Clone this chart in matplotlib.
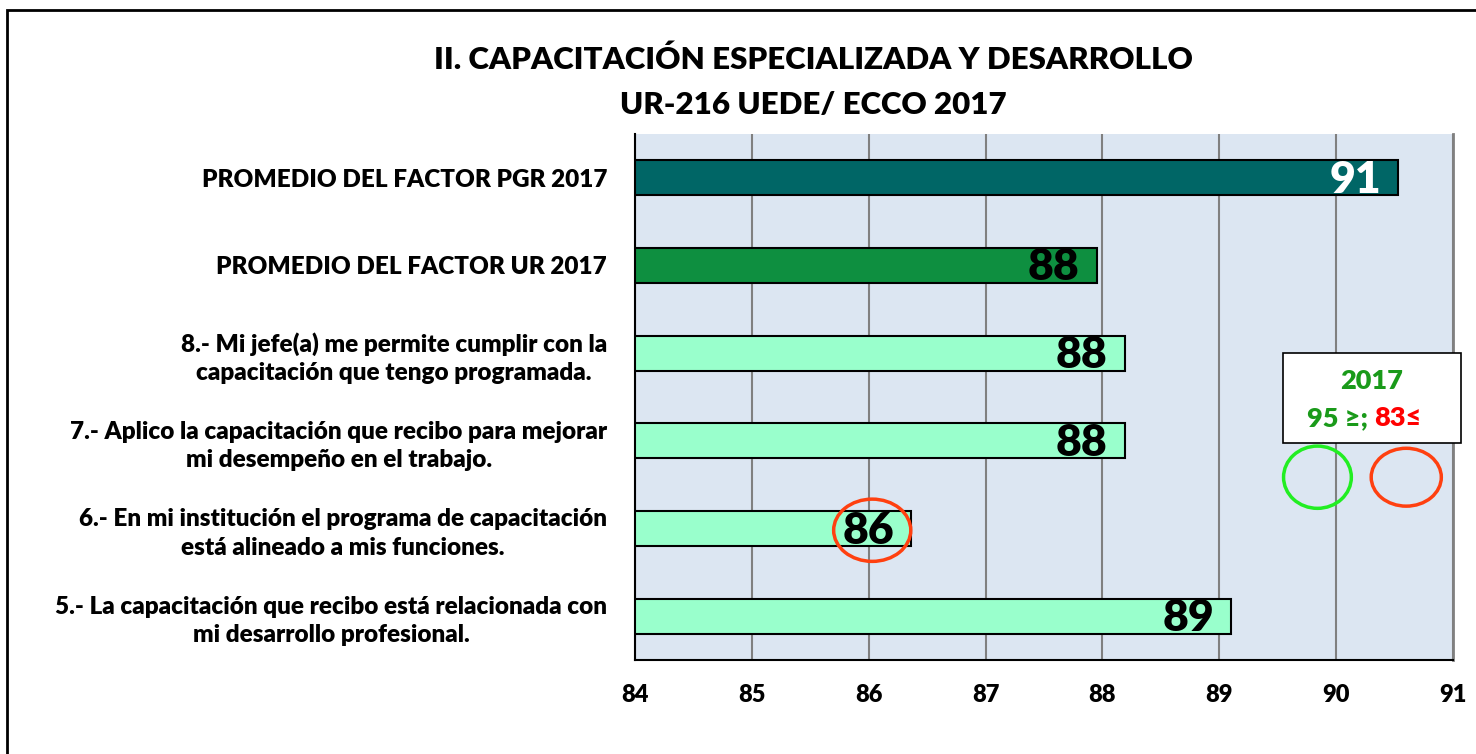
import matplotlib
matplotlib.use("Agg")
import matplotlib.pyplot as plt
from matplotlib.patches import Rectangle, Ellipse

plt.rcParams['font.family'] = ['Lato', 'DejaVu Sans']

categories = [
    "PROMEDIO DEL FACTOR PGR 2017",
    "PROMEDIO DEL FACTOR UR 2017",
    "8.- Mi jefe(a) me permite cumplir con la\ncapacitación que tengo programada.",
    "7.- Aplico la capacitación que recibo para mejorar\nmi desempeño en el trabajo.",
    "6.- En mi institución el programa de capacitación\nestá alineado a mis funciones.",
    "5.- La capacitación que recibo está relacionada con\nmi desarrollo profesional.",
]
values = [90.53, 87.95, 88.19, 88.19, 86.36, 89.10]
value_labels = ["91", "88", "88", "88", "86", "89"]
bar_colors = ["#006666", "#0e8f40", "#99ffcc", "#99ffcc", "#99ffcc", "#99ffcc"]
label_colors = ["white", "black", "black", "black", "black", "black"]
xticks = [84, 85, 86, 87, 88, 89, 90, 91]
title_lines = ["II. CAPACITACIÓN ESPECIALIZADA Y DESARROLLO", "UR-216 UEDE/ ECCO 2017"]

W, H = 1476, 754
fig = plt.figure(figsize=(W / 100, H / 100), dpi=100)
fig.patch.set_facecolor("white")
WT = "heavy"

def fx(px):
    return px / W

def fy(py):
    return 1 - py / H

ax = fig.add_axes([fx(635), fy(660), fx(1453) - fx(635), fy(134) - fy(660)])
ax.set_facecolor("#dce6f2")

y = list(range(len(categories)))
xmin = xticks[0]
ax.barh(y, [v - xmin for v in values], left=xmin, height=0.4,
        color=bar_colors, edgecolor="black", linewidth=1.5, zorder=3)

ax.set_xlim(xticks[0], xticks[-1])
ax.set_ylim(len(categories) - 0.5, -0.5)
ax.set_xticks(xticks)
ax.set_xticklabels([str(t) for t in xticks], fontsize=17, fontweight=WT)
ax.tick_params(axis="x", length=0, pad=17)
ax.set_yticks(y)
ax.set_yticklabels(categories, fontsize=17.5, fontweight=WT, ha="right",
                   multialignment="center", linespacing=1.35)
ax.tick_params(axis="y", length=0, pad=20)
ax.xaxis.grid(True, color="#808080", linewidth=1.5, zorder=1)
ax.set_axisbelow(True)
ax.spines["top"].set_visible(False)
ax.spines["right"].set_color("#808080")
ax.spines["right"].set_linewidth(2)
ax.spines["left"].set_color("black")
ax.spines["left"].set_linewidth(1.5)
ax.spines["bottom"].set_color("black")
ax.spines["bottom"].set_linewidth(1.5)

for i, (v, lab, c) in enumerate(zip(values, value_labels, label_colors)):
    ax.annotate(lab, xy=(v, i), xytext=(-17, -2), textcoords="offset pixels",
                ha="right", va="center", fontsize=32, fontweight=WT,
                color=c, zorder=5)

# title
fig.text(fx(813), fy(60), title_lines[0], ha="center", va="center",
         fontsize=22.5, fontweight=WT)
fig.text(fx(813), fy(105), title_lines[1], ha="center", va="center",
         fontsize=22.5, fontweight=WT)

# red ellipse around lowest item
ax.add_patch(Ellipse((86.03, 4.02), 0.66, 0.71, fill=False,
                     edgecolor="#ff4010", linewidth=2.5, zorder=6, clip_on=False))
# legend circles
ax.add_patch(Ellipse((89.84, 3.415), 0.58, 0.71, fill=False,
                     edgecolor="#22ee22", linewidth=2.5, zorder=6, clip_on=False))
ax.add_patch(Ellipse((90.60, 3.415), 0.60, 0.66, fill=False,
                     edgecolor="#ff4010", linewidth=2.5, zorder=6, clip_on=False))

# legend box
fig.patches.append(Rectangle((fx(1283), fy(443)), fx(1461) - fx(1283), fy(353) - fy(443),
                             transform=fig.transFigure, facecolor="white",
                             edgecolor="black", linewidth=1.2, zorder=10))
fig.text(fx(1372), fy(381), "2017", ha="center", va="center", fontsize=19.5,
         fontweight=WT, color="#1a9a1a", zorder=11)
fig.text(fx(1374), fy(418), "95 ≥; ", ha="right", va="center",
         fontsize=19.5, fontweight=WT, color="#1a9a1a", zorder=11)
fig.text(fx(1374), fy(418), "83≤", ha="left", va="center",
         fontsize=19.5, fontweight=WT, color="#ff0000", zorder=11)

# outer frame
fig.patches.append(Rectangle((fx(7), fy(760)), fx(1480) - fx(7), fy(10) - fy(760),
                             transform=fig.transFigure, fill=False,
                             edgecolor="black", linewidth=2, zorder=0))

fig.savefig("out.png", dpi=100)
